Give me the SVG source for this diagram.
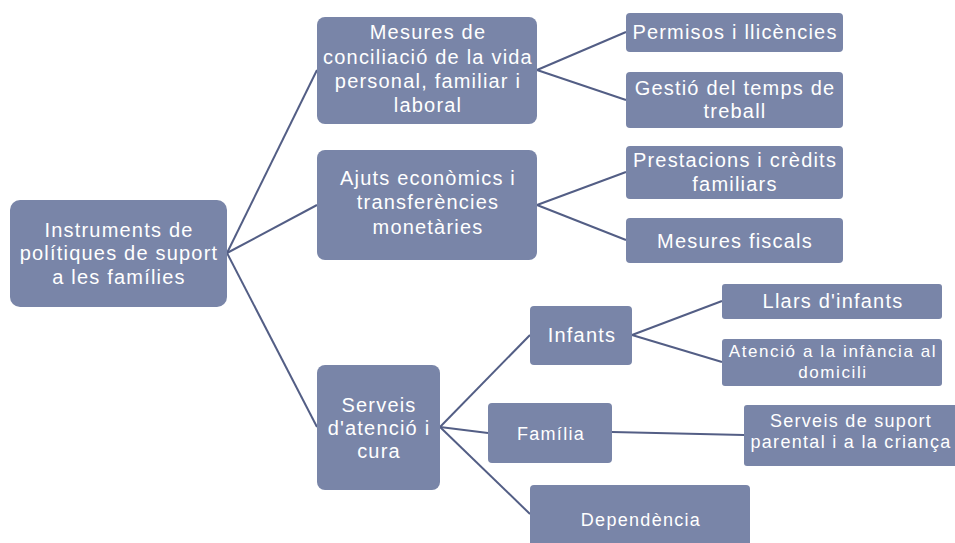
<svg xmlns="http://www.w3.org/2000/svg" width="955" height="543" viewBox="0 0 955 543">
<style>
.box{fill:#7985A8;}
.t{font-family:"Liberation Sans",Arial,sans-serif;fill:#ffffff;text-anchor:middle;font-size:20px;letter-spacing:1.2px;}
.s{font-size:18px;letter-spacing:1.3px;}
.xs{font-size:17px;letter-spacing:1.6px;}
.c{stroke:#535E85;stroke-width:2;fill:none;}
</style>
<rect width="955" height="543" fill="#ffffff"/>
<g id="connectors">
<line class="c" x1="227" y1="253" x2="317" y2="70"/>
<line class="c" x1="227" y1="253" x2="317" y2="205"/>
<line class="c" x1="227" y1="253" x2="317" y2="427"/>
<line class="c" x1="537" y1="70" x2="626" y2="32"/>
<line class="c" x1="537" y1="70" x2="626" y2="100"/>
<line class="c" x1="537" y1="205" x2="626" y2="172"/>
<line class="c" x1="537" y1="205" x2="626" y2="240"/>
<line class="c" x1="440" y1="427" x2="530" y2="335"/>
<line class="c" x1="440" y1="427" x2="488" y2="433"/>
<line class="c" x1="440" y1="427" x2="530" y2="514"/>
<line class="c" x1="632" y1="335" x2="722" y2="301"/>
<line class="c" x1="632" y1="335" x2="722" y2="362"/>
<line class="c" x1="612" y1="432" x2="744" y2="435"/>
</g>
<g id="root">
<rect class="box" x="10" y="200" width="217" height="107" rx="10"/>
<text class="t" x="119" y="237">Instruments de</text>
<text class="t" x="119" y="260">polítiques de suport</text>
<text class="t" x="119" y="284">a les famílies</text>
</g>
<g id="mesures">
<rect class="box" x="317" y="17" width="220" height="107" rx="8"/>
<text class="t" x="428" y="39">Mesures de</text>
<text class="t" x="428" y="64">conciliació de la vida</text>
<text class="t" x="428" y="88">personal, familiar i</text>
<text class="t" x="428" y="112">laboral</text>
</g>
<g id="ajuts">
<rect class="box" x="317" y="150" width="220" height="110" rx="8"/>
<text class="t" x="428" y="185">Ajuts econòmics i</text>
<text class="t" x="428" y="209">transferències</text>
<text class="t" x="428" y="234">monetàries</text>
</g>
<g id="serveis">
<rect class="box" x="317" y="365" width="123" height="125" rx="8"/>
<text class="t" x="379" y="412">Serveis</text>
<text class="t" x="379" y="435">d'atenció i</text>
<text class="t" x="379" y="458">cura</text>
</g>
<g id="permisos">
<rect class="box" x="626" y="13" width="217" height="39" rx="4"/>
<text class="t" x="735" y="39">Permisos i llicències</text>
</g>
<g id="gestio">
<rect class="box" x="626" y="72" width="217" height="56" rx="4"/>
<text class="t" x="735" y="95">Gestió del  temps de</text>
<text class="t" x="735" y="118">treball</text>
</g>
<g id="prestacions">
<rect class="box" x="626" y="146" width="217" height="53" rx="4"/>
<text class="t" x="735" y="167">Prestacions i crèdits</text>
<text class="t" x="735" y="191">familiars</text>
</g>
<g id="fiscals">
<rect class="box" x="626" y="218" width="217" height="45" rx="4"/>
<text class="t" x="735" y="248">Mesures fiscals</text>
</g>
<g id="infants">
<rect class="box" x="530" y="306" width="102" height="59" rx="4"/>
<text class="t" x="582" y="342">Infants</text>
</g>
<g id="familia">
<rect class="box" x="488" y="403" width="124" height="60" rx="4"/>
<text class="t s" x="551" y="440">Família</text>
</g>
<g id="dependencia">
<rect class="box" x="530" y="485" width="220" height="66" rx="4"/>
<text class="t s" x="641" y="526">Dependència</text>
</g>
<g id="llars">
<rect class="box" x="722" y="284" width="220" height="35" rx="3"/>
<text class="t" x="833" y="308">Llars d'infants</text>
</g>
<g id="atencio">
<rect class="box" x="722" y="339" width="220" height="47" rx="3"/>
<text class="t xs" x="833" y="357">Atenció a la infància al</text>
<text class="t xs" x="833" y="378">domicili</text>
</g>
<g id="suport">
<rect class="box" x="744" y="405" width="220" height="61" rx="3"/>
<text class="t s" x="851" y="427">Serveis de suport</text>
<text class="t s" x="851" y="448">parental i a la criança</text>
</g>
</svg>
